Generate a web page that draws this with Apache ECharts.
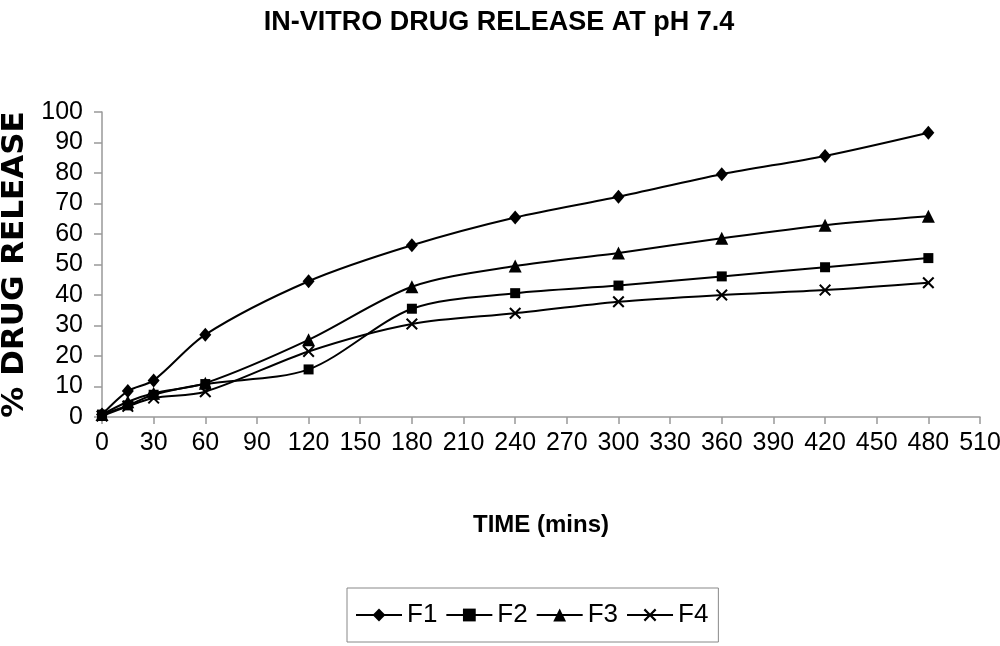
<!DOCTYPE html>
<html>
<head>
<meta charset="utf-8">
<script src="https://cdn.jsdelivr.net/npm/echarts@6/dist/echarts.min.js"></script>
<style>html,body{margin:0;padding:0;background:#fff}#c{width:1000px;height:646px}</style>
</head>
<body>
<div id="c"></div>
<script>
var times = [0, 15, 30, 60, 120, 180, 240, 300, 360, 420, 480];
var f1 = [0.8, 8.5, 12, 27, 44.5, 56.3, 65.4, 72.2, 79.6, 85.6, 93.2];
var f2 = [0.8, 3.8, 7.3, 10.8, 15.6, 35.5, 40.6, 43.1, 46.1, 49.1, 52.1];
var f3 = [0.8, 5, 7.8, 11.1, 25.3, 42.7, 49.5, 53.8, 58.6, 62.9, 65.8];
var f4 = [0.3, 3.5, 6.2, 8.3, 21.5, 30.5, 34, 37.8, 40, 41.6, 44];
var seriesNames = ['F1', 'F2', 'F3', 'F4'];
var yTicks = [0, 10, 20, 30, 40, 50, 60, 70, 80, 90, 100];
var xTicks = [0, 30, 60, 90, 120, 150, 180, 210, 240, 270, 300, 330, 360, 390, 420, 450, 480, 510];

var SANS = "'Liberation Sans', Arial, sans-serif";
var crossPath = 'path://M0,1.2 L1.2,0 L5,3.8 L8.8,0 L10,1.2 L6.2,5 L10,8.8 L8.8,10 L5,6.2 L1.2,10 L0,8.8 L3.8,5 Z';

function pairs(vals) { return times.map(function (t, i) { return [t, vals[i]]; }); }

var symbols = ['diamond', 'rect', 'triangle', crossPath];
var sizes = [[12, 14], [10, 10], [13, 13], [12, 12]];
var allVals = [f1, f2, f3, f4];

var chart = echarts.init(document.getElementById('c'), null, {renderer: 'canvas'});
chart.setOption({
  animation: false,
  backgroundColor: '#fff',
  title: {
    text: 'IN-VITRO DRUG RELEASE AT pH 7.4',
    left: 494, textAlign: 'center', top: 4,
    textStyle: {fontFamily: SANS, fontWeight: 'bold', fontSize: 27, color: '#000'}
  },
  legend: {
    data: seriesNames,
    left: 347, top: 588,
    itemWidth: 46, itemHeight: 16, itemGap: 8,
    padding: [14, 10, 14, 8],
    borderColor: '#888', borderWidth: 1,
    textStyle: {fontFamily: SANS, fontSize: 26, color: '#000'}
  },
  grid: {left: 102, right: 20, top: 112, bottom: 229, containLabel: false, outerBoundsMode: 'none'},
  xAxis: {
    type: 'value', min: 0, max: 510, interval: 30,
    name: 'TIME (mins)', nameLocation: 'middle', nameGap: 96,
    nameTextStyle: {fontFamily: SANS, fontWeight: 'bold', fontSize: 24, color: '#000'},
    axisLine: {lineStyle: {color: '#999', width: 1.5}},
    axisTick: {show: true, length: 7, lineStyle: {color: '#999', width: 1.5}},
    axisLabel: {fontFamily: SANS, fontSize: 25, color: '#000', margin: 14,
      formatter: function (v) { return xTicks.indexOf(v) >= 0 ? String(v) : ''; }},
    splitLine: {show: false}
  },
  yAxis: {
    type: 'value', min: 0, max: 100, interval: 10,
    name: '% DRUG RELEASE', nameLocation: 'middle', nameGap: 52, nameRotate: 90,
    nameTextStyle: {fontFamily: "'DejaVu Sans', sans-serif", fontWeight: 'bold', fontSize: 31, color: '#000'},
    axisLine: {show: true, lineStyle: {color: '#999', width: 1.5}},
    axisTick: {show: true, length: 8, lineStyle: {color: '#999', width: 1.5}},
    axisLabel: {fontFamily: SANS, fontSize: 25, color: '#000', margin: 19,
      formatter: function (v) { return yTicks.indexOf(v) >= 0 ? String(v) : ''; }},
    splitLine: {show: false}
  },
  series: seriesNames.map(function (n, i) {
    return {
      name: n, type: 'line', data: pairs(allVals[i]),
      smooth: 0.3,
      symbol: symbols[i], symbolSize: sizes[i], showSymbol: true,
      lineStyle: {color: '#000', width: 2},
      itemStyle: {color: '#000', borderWidth: 0}
    };
  })
});
</script>
</body>
</html>
